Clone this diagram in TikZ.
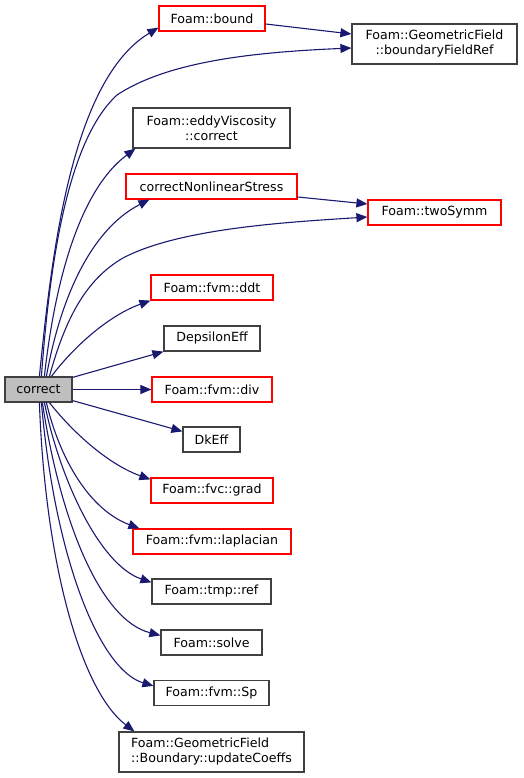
\documentclass[tikz,border=0pt]{standalone}
\usepackage{fontspec}
\setmainfont{DejaVu Sans}
\usetikzlibrary{arrows.meta}
\definecolor{edgeblue}{HTML}{191970}
\definecolor{greyline}{HTML}{404040}
\definecolor{greyfill}{HTML}{BFBFBF}
\definecolor{redline}{HTML}{FF0000}
\tikzset{
  box/.style={draw=greyline, line width=1.2pt, fill=white, inner sep=0pt, font=\fontsize{12.6}{15}\selectfont},
  redbox/.style={box, draw=redline},
  rootbox/.style={box, fill=greyfill},
  edge/.style={draw=edgeblue, line width=1.1pt, -{Triangle[length=11pt,width=9pt]}}
}
\begin{document}
\begin{tikzpicture}[x=1pt,y=-1pt]
\useasboundingbox (0,0) rectangle (524,778);
% nodes
\node[rootbox, minimum width=67pt, minimum height=25pt] (correct) at (38.5,389.5) {correct};
\node[redbox, minimum width=106pt, minimum height=25pt] (bound) at (212,18.5) {Foam::bound};
\node[box, minimum width=165pt, minimum height=40pt, align=center] (bfr) at (434.5,44) {Foam::GeometricField\\::boundaryFieldRef};
\node[box, minimum width=157pt, minimum height=40pt, align=center] (eddy) at (211.5,128) {Foam::eddyViscosity\\::correct};
\node[redbox, minimum width=171pt, minimum height=25pt] (nonlin) at (211.5,186.5) {correctNonlinearStress};
\node[redbox, minimum width=133pt, minimum height=25pt] (twosymm) at (434.5,212.5) {Foam::twoSymm};
\node[redbox, minimum width=122pt, minimum height=25pt] (ddt) at (212,287.5) {Foam::fvm::ddt};
\node[box, minimum width=96pt, minimum height=25pt] (deps) at (212,338.5) {DepsilonEff};
\node[redbox, minimum width=120pt, minimum height=25pt] (div) at (212,389.5) {Foam::fvm::div};
\node[box, minimum width=57pt, minimum height=25pt] (dkeff) at (211.5,439.5) {DkEff};
\node[redbox, minimum width=122pt, minimum height=25pt] (grad) at (212,490.5) {Foam::fvc::grad};
\node[redbox, minimum width=158pt, minimum height=25pt] (lapl) at (212,541.5) {Foam::fvm::laplacian};
\node[box, minimum width=119pt, minimum height=25pt] (tmpref) at (211.5,591.5) {Foam::tmp::ref};
\node[box, minimum width=101pt, minimum height=25pt] (solve) at (211.5,642.5) {Foam::solve};
\node[box, minimum width=115pt, minimum height=25pt] (sp) at (211.5,693) {Foam::fvm::Sp};
\node[box, minimum width=185pt, minimum height=40pt, align=left] (upd) at (211.5,752) {Foam::GeometricField\\::Boundary::updateCoeffs};
% edges
\draw[edge] ([xshift=35pt]correct.north west) .. controls (52,250) and (72,80) .. ([yshift=4pt]bound.south west);
\draw[edge] ([xshift=37pt]correct.north west) .. controls (50,260) and (68,140) .. (117,95) .. controls (170,60) and (260,52) .. ([yshift=-4pt]bfr.west);
\draw[edge] ([xshift=40pt]correct.north west) .. controls (55,280) and (80,190) .. ([xshift=3pt]eddy.south west);
\draw[edge] ([xshift=42pt]correct.north west) .. controls (60,300) and (90,230) .. ([xshift=24pt]nonlin.south west);
\draw[edge] ([xshift=45pt]correct.north west) .. controls (65,320) and (85,280) .. (123,258) .. controls (180,228) and (290,222) .. ([yshift=-4.5pt]twosymm.west);
\draw[edge] ([xshift=47pt]correct.north west) .. controls (75,345) and (110,315) .. (ddt.south west);
\draw[edge] ([yshift=-1pt]correct.north east) -- (deps.south west);
\draw[edge] (correct.east) -- (div.west);
\draw[edge] ([yshift=2pt]correct.south east) -- ([yshift=-5pt]dkeff.north west);
\draw[edge] ([xshift=45pt]correct.south west) .. controls (75,435) and (110,465) .. ([yshift=-2pt]grad.north west);
\draw[edge] ([xshift=42pt]correct.south west) .. controls (60,460) and (90,510) .. ([xshift=7pt]lapl.north west);
\draw[edge] ([xshift=40pt]correct.south west) .. controls (60,480) and (100,565) .. ([yshift=-4pt]tmpref.north west);
\draw[edge] ([xshift=38pt]correct.south west) .. controls (60,520) and (100,620) .. ([yshift=-6pt]solve.north west);
\draw[edge] ([xshift=37pt]correct.south west) .. controls (55,560) and (100,670) .. ([yshift=-6pt]sp.north west);
\draw[edge] ([xshift=35pt]correct.south west) .. controls (45,560) and (80,690) .. ([xshift=16pt]upd.north west);
\draw[edge] ([yshift=-5.5pt]bound.east) -- ([yshift=10pt]bfr.west);
\draw[edge] ([yshift=-10.5pt]nonlin.east) -- ([yshift=8.5pt]twosymm.west);
\end{tikzpicture}
\end{document}
